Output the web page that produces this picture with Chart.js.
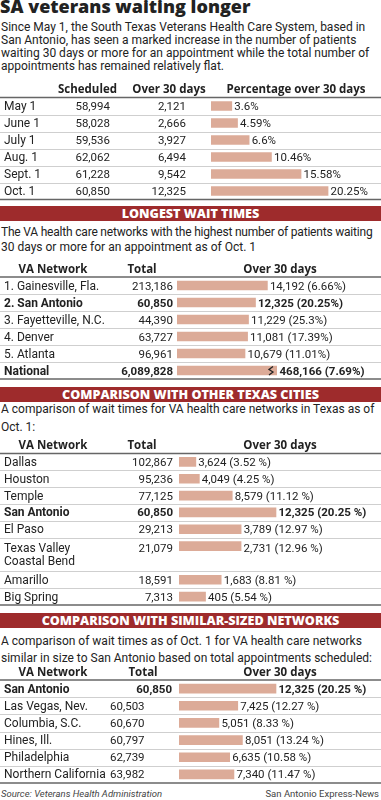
<!DOCTYPE html>
<html>
<head>
<meta charset="utf-8">
<script src="https://cdn.jsdelivr.net/npm/chart.js@4"></script>
<style>
  body { margin: 0; background: #fff; }
  #page { position: relative; width: 381px; height: 800px; overflow: hidden; font-family: Roboto, sans-serif; color: #222; }
  .t { position: absolute; left: 1px; white-space: nowrap; font-size: 12px; line-height: 12px; }
  .band { position: absolute; left: 0; width: 381px; height: 15px; background: #9e2b2c; color: #fff;
          font: 800 12.6px/15px "Open Sans", sans-serif; text-align: center; }
  canvas { position: absolute; left: 0; }
</style>
</head>
<body>
<div id="page">
  <div class="t" style="top:-3px;left:0;font:800 18px/18px 'Open Sans'">SA veterans waiting longer</div>
  <div class="t" style="top:20.5px">Since May 1, the South Texas Veterans Health Care System, based in</div>
  <div class="t" style="top:33.8px">San Antonio, has seen a marked increase in the number of patients</div>
  <div class="t" style="top:47.1px">waiting 30 days or more for an appointment while the total number of</div>
  <div class="t" style="top:60.4px">appointments has remained relatively flat.</div>
  <canvas id="c1" width="381" height="125" style="top:78px"></canvas>

  <div class="band" style="top:206px">LONGEST WAIT TIMES</div>
  <div class="t" style="top:226px;letter-spacing:-0.2px">The VA health care networks with the highest number of patients waiting</div>
  <div class="t" style="top:241px">30 days or more for an appointment as of Oct. 1</div>
  <canvas id="c2" width="381" height="125" style="top:257px"></canvas>

  <div class="band" style="top:387px">COMPARISON WITH OTHER TEXAS CITIES</div>
  <div class="t" style="top:403px">A comparison of wait times for VA health care networks in Texas as of</div>
  <div class="t" style="top:421px">Oct. 1:</div>
  <canvas id="c3" width="381" height="174" style="top:434px"></canvas>

  <div class="band" style="top:613px">COMPARISON WITH SIMILAR-SIZED NETWORKS</div>
  <div class="t" style="top:635px">A comparison of wait times as of Oct. 1 for VA health care networks</div>
  <div class="t" style="top:651.5px">similar in size to San Antonio based on total appointments scheduled:</div>
  <canvas id="c4" width="381" height="126" style="top:660px"></canvas>

  <div class="t" style="top:789px;font-size:9.5px;line-height:10px;font-style:italic;color:#444">Source: Veterans Health Administration</div>
  <div class="t" style="top:789px;left:auto;right:2px;font-size:9.5px;line-height:10px;color:#444">San Antonio Express-News</div>
</div>

<script>
// 1) monthly San Antonio figures
var months = ['May 1', 'June 1', 'July 1', 'Aug. 1', 'Sept. 1', 'Oct. 1'];
var scheduled = [58994, 58028, 59536, 62062, 61228, 60850];
var over30 = [2121, 2666, 3927, 6494, 9542, 12325];
var pctOver30 = [3.6, 4.59, 6.6, 10.46, 15.58, 20.25];

// 2) longest wait times
var longNetworks = ['1. Gainesville, Fla.', '2. San Antonio', '3. Fayetteville, N.C.', '4. Denver', '5. Atlanta', 'National'];
var longTotal = [213186, 60850, 44390, 63727, 96961, 6089828];
var longOver = [14192, 12325, 11229, 11081, 10679, 468166];
var longPct = [6.66, 20.25, 25.3, 17.39, 11.01, 7.69];

// 3) texas cities
var texNetworks = ['Dallas', 'Houston', 'Temple', 'San Antonio', 'El Paso', ['Texas Valley', 'Coastal Bend'], 'Amarillo', 'Big Spring'];
var texTotal = [102867, 95236, 77125, 60850, 29213, 21079, 18591, 7313];
var texOver = [3624, 4049, 8579, 12325, 3789, 2731, 1683, 405];
var texPct = [3.52, 4.25, 11.12, 20.25, 12.97, 12.96, 8.81, 5.54];

// 4) similar-sized networks
var simNetworks = ['San Antonio', 'Las Vegas, Nev.', 'Columbia, S.C.', 'Hines, Ill.', 'Philadelphia', 'Northern California'];
var simTotal = [60850, 60503, 60670, 60797, 62739, 63982];
var simOver = [12325, 7425, 5051, 8051, 6635, 7340];
var simPct = [20.25, 12.27, 8.33, 13.24, 10.58, 11.47];

var barColor = '#dcab98';
var font = 'Roboto, sans-serif';

function fmt(n) { return n.toLocaleString('en-US'); }

function drawTable(id, t) {
  // rows may span several lines -> one category slot per line
  var labels = [], values = [], rowOfSlot = [], firstSlot = [];
  t.names.forEach(function(name, i) {
    var lines = Array.isArray(name) ? name : [name];
    firstSlot.push(labels.length);
    lines.forEach(function(l, k) {
      labels.push(l);
      values.push(k == 0 ? t.values[i] : null);
      rowOfSlot.push(i);
    });
  });

  var rowsPlugin = {
    id: 'rows',
    afterDatasetsDraw: function(chart) {
      var ctx = chart.ctx, a = chart.chartArea, xs = chart.scales.x, ys = chart.scales.y;
      var pitch = (a.bottom - a.top) / labels.length;
      ctx.save();
      // lines
      ctx.lineWidth = 1;
      ctx.strokeStyle = '#cfcfcf';
      t.names.forEach(function(n, i) {
        if (i == 0) return;
        var yy = Math.round(a.top + firstSlot[i] * pitch) + 0.5;
        ctx.beginPath(); ctx.moveTo(0, yy); ctx.lineTo(381, yy); ctx.stroke();
      });
      ctx.strokeStyle = '#666';
      ctx.lineWidth = 1.5;
      [a.top, a.bottom].forEach(function(yy) {
        ctx.beginPath(); ctx.moveTo(0, yy); ctx.lineTo(381, yy); ctx.stroke();
      });
      // headers
      ctx.fillStyle = '#222';
      ctx.textBaseline = 'alphabetic';
      ctx.font = 'bold 11.5px "Open Sans", sans-serif';
      ctx.textAlign = 'center';
      t.headers.forEach(function(h) { ctx.fillText(h[0], h[1], a.top - 4.5); });
      // row text
      labels.forEach(function(l, s) {
        var i = rowOfSlot[s];
        var yc = ys.getPixelForValue(s) + 4;
        var bold = t.bold.indexOf(i) >= 0;
        ctx.font = (bold ? 'bold ' : '') + '12px ' + font;
        ctx.textAlign = 'left';
        var nLines = Array.isArray(t.names[i]) ? t.names[i].length : 1;
        if (nLines > 1) {
          // tighter line spacing for wrapped names
          var mid = (ys.getPixelForValue(firstSlot[i]) + ys.getPixelForValue(firstSlot[i] + nLines - 1)) / 2;
          ctx.fillText(l, 4, mid + (s - firstSlot[i] - (nLines - 1) / 2) * 13 + 4);
        } else {
          ctx.fillText(l, 4, yc);
        }
        if (s != firstSlot[i]) return;
        if (nLines > 1) yc = mid - 6.5 + 4;
        ctx.font = (bold ? 'bold ' : '') + '11.5px ' + font;
        t.cells(i).forEach(function(c) {
          ctx.textAlign = c[2];
          ctx.fillText(c[0], c[1], yc);
        });
        var end = Math.min(xs.getPixelForValue(t.values[i]), a.right);
        ctx.textAlign = 'left';
        ctx.fillText(t.barLabel(i), end + 2.5, yc);
        if (t.values[i] > t.max) {
          // break mark on the truncated bar
          ctx.strokeStyle = '#222';
          ctx.lineWidth = 1.3;
          var yb = ys.getPixelForValue(s);
          ctx.beginPath();
          ctx.moveTo(a.right - 4, yb - 4);
          ctx.lineTo(a.right - 8, yb - 1);
          ctx.lineTo(a.right - 4, yb + 1.5);
          ctx.lineTo(a.right - 8, yb + 4.5);
          ctx.stroke();
        }
      });
      ctx.restore();
    }
  };

  new Chart(document.getElementById(id).getContext('2d'), {
    type: 'bar',
    data: {
      labels: labels,
      datasets: [{ data: values, backgroundColor: barColor, barThickness: 9, clip: 0 }]
    },
    options: {
      indexAxis: 'y',
      responsive: false,
      animation: false,
      devicePixelRatio: 1,
      events: [],
      layout: { padding: { left: t.barLeft, right: 381 - t.barLeft - t.barWidth, top: t.padTop, bottom: t.padBottom } },
      plugins: { legend: { display: false }, tooltip: { enabled: false } },
      scales: {
        x: { display: false, min: 0, max: t.max },
        y: { display: false }
      }
    },
    plugins: [rowsPlugin]
  });
}

drawTable('c1', {
  names: months, values: pctOver30, max: 25, barLeft: 211, barWidth: 144.5,
  padTop: 19.5, padBottom: 3.5, bold: [],
  headers: [['Scheduled', 87.5], ['Over 30 days', 169], ['Percentage over 30 days', 296]],
  cells: function(i) { return [[fmt(scheduled[i]), 110, 'right'], [fmt(over30[i]), 186, 'right']]; },
  barLabel: function(i) { return pctOver30[i] + '%'; }
});

drawTable('c2', {
  names: longNetworks, values: longOver, max: 15700, barLeft: 177, barWidth: 100,
  padTop: 20, padBottom: 3, bold: [1, 5],
  headers: [['VA Network', 53], ['Total', 142], ['Over 30 days', 280]],
  cells: function(i) { return [[fmt(longTotal[i]), 173, 'right']]; },
  barLabel: function(i) { return fmt(longOver[i]) + ' (' + longPct[i] + '%)'; }
});

drawTable('c3', {
  names: texNetworks, values: texPct, max: 25, barLeft: 179, barWidth: 119.75,
  padTop: 19.5, padBottom: 3, bold: [3],
  headers: [['VA Network', 53], ['Total', 142], ['Over 30 days', 280]],
  cells: function(i) { return [[fmt(texTotal[i]), 173, 'right']]; },
  barLabel: function(i) { return fmt(texOver[i]) + ' (' + texPct[i] + ' %)'; }
});

drawTable('c4', {
  names: simNetworks, values: simPct, max: 25, barLeft: 179, barWidth: 119.75,
  padTop: 20, padBottom: 3, bold: [0],
  headers: [['VA Network', 53], ['Total', 143], ['Over 30 days', 280]],
  cells: function(i) { return i == 0 ? [[fmt(simTotal[i]), 172, 'right']] : [[fmt(simTotal[i]), 110, 'left']]; },
  barLabel: function(i) { return fmt(simOver[i]) + ' (' + simPct[i] + ' %)'; }
});
</script>
</body>
</html>
